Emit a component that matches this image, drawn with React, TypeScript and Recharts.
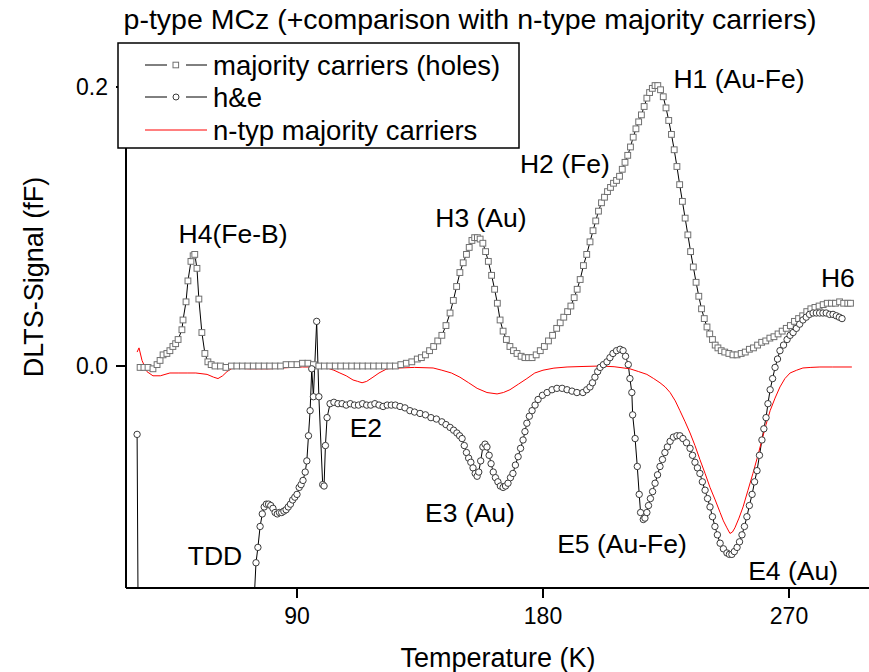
import React from 'react';
import { LineChart, Line, XAxis, YAxis, ReferenceDot, Label } from 'recharts';

const FONT = '"Liberation Sans", Arial, Helvetica, sans-serif';

// majority carriers (holes) - p-type DLTS spectrum
const holesT = [
  32.6, 34.0, 35.5, 37.3, 38.8, 39.9, 41.0, 42.4, 43.5, 44.6, 45.6, 46.5, 47.9, 48.3, 49.4, 50.1, 51.2, 52.0, 52.6, 53.4,
  54.1, 55.2, 56.3, 57.4, 58.6, 60.0, 62, 64, 66, 68, 70, 72, 74, 76, 78, 80, 82, 84, 86, 88,
  90, 92, 94, 96, 98, 100, 102, 104, 106, 108, 110, 112, 114, 116, 118, 120, 122, 124, 126, 128,
  130, 132, 134, 135.5, 137, 138.5, 140, 141.5, 143, 144.5, 146, 147.2, 148.4, 149.6, 150.8, 152.0, 153.0, 154.0, 155.0, 156.0,
  157.0, 158.0, 159.0, 160.0, 161.2, 162.3, 163.3, 164.3, 165.4, 166.6, 167.9, 169.2, 170.5, 172.0, 173.4, 174.7, 176.0, 177.5, 179.0, 180.5,
  182.0, 183.5, 185.0, 186.3, 187.6, 189.0, 190.2, 191.4, 192.5, 193.6, 194.8, 196.0, 197.2, 198.3, 199.3, 200.3, 201.4, 202.5, 203.6, 204.7,
  205.8, 206.9, 208.0, 209.0, 210.0, 211.0, 212.0, 213.0, 214.0, 215.0, 216.0, 217.0, 218.0, 219.0, 220.0, 221.0, 222.0, 223.0, 224.0, 225.0,
  226.0, 227.0, 228.0, 229.0, 230.0, 231.0, 232.0, 233.0, 234.0, 235.0, 236.0, 237.0, 238.0, 239.0, 240.0, 241.0, 242.0, 243.0, 244.0, 245.2,
  246.5, 248.0, 249.5, 251.0, 252.5, 254.0, 255.5, 257.0, 258.5, 260.0, 261.5, 263.0, 264.5, 266.0, 267.5, 269.0, 270.5, 272.0, 273.5, 275.0,
  276.5, 278.0, 279.5, 281.0, 282.5, 284.0, 285.5, 287.0, 288.5, 290.0, 291.5, 292.5,
];
const holesV = [
  -0.001, -0.001, -0.001, -0.002, 0.001, 0.004, 0.008, 0.009, 0.011, 0.014, 0.016, 0.019, 0.026, 0.033, 0.046, 0.061, 0.075, 0.079, 0.080, 0.070,
  0.048, 0.024, 0.009, 0.003, 0.001, 0.000, 0.000, -0.001, 0.000, 0.000, 0.000, 0.000, 0.000, 0.000, 0.000, 0.000, 0.000, 0.000, 0.001, 0.001,
  0.001, 0.002, 0.002, 0.001, 0.000, 0.000, 0.000, 0.000, 0.000, 0.000, 0.000, 0.000, 0.000, 0.000, 0.000, 0.000, 0.000, 0.000, 0.000, 0.001,
  0.002, 0.003, 0.005, 0.006, 0.008, 0.011, 0.014, 0.018, 0.022, 0.029, 0.038, 0.047, 0.057, 0.067, 0.074, 0.080, 0.085, 0.090, 0.092, 0.092,
  0.091, 0.088, 0.082, 0.075, 0.065, 0.055, 0.045, 0.033, 0.025, 0.019, 0.014, 0.011, 0.009, 0.007, 0.006, 0.006, 0.006, 0.008, 0.011, 0.014,
  0.018, 0.022, 0.027, 0.031, 0.035, 0.039, 0.043, 0.049, 0.055, 0.062, 0.072, 0.080, 0.089, 0.097, 0.104, 0.111, 0.117, 0.121, 0.125, 0.128,
  0.131, 0.133, 0.136, 0.141, 0.146, 0.151, 0.157, 0.164, 0.170, 0.175, 0.180, 0.186, 0.192, 0.196, 0.199, 0.201, 0.201, 0.198, 0.193, 0.185,
  0.176, 0.166, 0.155, 0.143, 0.130, 0.118, 0.106, 0.094, 0.082, 0.071, 0.060, 0.050, 0.041, 0.034, 0.028, 0.023, 0.019, 0.015, 0.013, 0.011,
  0.010, 0.009, 0.008, 0.008, 0.009, 0.010, 0.012, 0.013, 0.015, 0.017, 0.018, 0.020, 0.021, 0.023, 0.025, 0.027, 0.029, 0.032, 0.034, 0.036,
  0.039, 0.041, 0.042, 0.043, 0.044, 0.045, 0.045, 0.045, 0.046, 0.045, 0.045, 0.045,
];

// h&e (holes and electrons) spectrum
const heT = [
  31.5, 32.5, 73.5, 75.0, 75.7, 76.5, 77.3, 78.0, 78.8, 79.6, 80.4, 81.2, 82.0, 82.8, 83.6, 84.4, 85.2, 86.0, 86.8, 87.6,
  88.4, 89.2, 90.0, 90.8, 91.5, 92.2, 93.0, 93.6, 94.2, 94.8, 95.4, 96.0, 97.2, 98.0, 99.4, 99.9, 100.4, 101.0, 102.1, 103.5,
  105.0, 106.5, 108.0, 109.5, 111.0, 112.5, 114.0, 115.5, 117.0, 118.5, 120.0, 121.5, 123.0, 124.5, 126.0, 127.7, 129.5, 131.3, 133.0, 135.0,
  137.0, 139.0, 141.0, 143.0, 144.5, 146.0, 147.3, 148.5, 149.5, 150.4, 151.2, 152.0, 152.8, 153.6, 154.4, 155.2, 155.9, 156.5, 157.2, 158.0,
  158.8, 159.5, 160.3, 161.0, 161.8, 162.6, 163.5, 164.4, 165.4, 166.3, 167.2, 168.1, 169.0, 169.9, 170.9, 171.8, 172.7, 173.4, 174.1, 175.0,
  176.0, 177.1, 178.2, 179.8, 181.5, 183.3, 185.1, 187.0, 188.8, 190.6, 192.4, 194.6, 196.0, 197.2, 198.1, 199.0, 200.0, 200.9, 202.1, 203.4,
  204.5, 205.6, 206.9, 208.2, 209.3, 210.2, 211.2, 211.8, 212.5, 212.8, 213.7, 214.5, 215.2, 215.7, 216.7, 217.3, 218.0, 218.6, 219.3, 220.1,
  221.0, 221.9, 222.8, 223.7, 224.6, 225.5, 226.5, 227.7, 229.0, 230.1, 231.2, 232.5, 233.8, 234.7, 235.6, 236.5, 237.4, 238.3, 239.3, 240.2,
  241.1, 242.0, 242.9, 243.8, 244.8, 246.0, 247.3, 248.2, 249.1, 250.0, 251.0, 251.9, 252.8, 253.7, 254.6, 255.5, 256.5, 257.4, 258.3, 259.2,
  260.1, 260.8, 261.6, 262.3, 263.1, 264.0, 264.9, 265.8, 266.7, 268.0, 269.3, 270.4, 271.5, 272.7, 273.9, 275.1, 276.3, 277.5, 278.8, 280.0,
  281.2, 282.4, 283.6, 284.9, 286.1, 287.3, 288.4, 289.4,
];
const heV = [
  -0.049, -0.40, -0.20, -0.141, -0.130, -0.115, -0.106, -0.101, -0.099, -0.099, -0.100, -0.102, -0.105, -0.106, -0.105, -0.105, -0.104, -0.103, -0.101, -0.099,
  -0.096, -0.094, -0.092, -0.087, -0.085, -0.082, -0.076, -0.068, -0.050, -0.032, -0.002, -0.022, 0.032, -0.022, -0.085, -0.086, -0.057, -0.037, -0.027, -0.026,
  -0.027, -0.027, -0.028, -0.027, -0.028, -0.028, -0.027, -0.028, -0.028, -0.027, -0.028, -0.029, -0.028, -0.028, -0.028, -0.029, -0.030, -0.032, -0.033, -0.034,
  -0.035, -0.037, -0.038, -0.040, -0.042, -0.044, -0.046, -0.048, -0.050, -0.052, -0.057, -0.062, -0.066, -0.069, -0.073, -0.077, -0.079, -0.076, -0.068, -0.058,
  -0.056, -0.058, -0.064, -0.070, -0.076, -0.080, -0.083, -0.086, -0.087, -0.086, -0.084, -0.080, -0.077, -0.071, -0.065, -0.059, -0.053, -0.047, -0.041, -0.036,
  -0.032, -0.028, -0.024, -0.021, -0.019, -0.017, -0.016, -0.016, -0.017, -0.018, -0.019, -0.019, -0.017, -0.015, -0.012, -0.008, -0.004, -0.001, 0.001, 0.003,
  0.006, 0.009, 0.011, 0.012, 0.011, 0.007, 0.001, -0.009, -0.019, -0.035, -0.052, -0.072, -0.092, -0.105, -0.110, -0.109, -0.105, -0.100, -0.095, -0.090,
  -0.084, -0.078, -0.072, -0.067, -0.062, -0.058, -0.054, -0.051, -0.050, -0.050, -0.052, -0.055, -0.059, -0.064, -0.069, -0.073, -0.077, -0.083, -0.089, -0.095,
  -0.101, -0.108, -0.115, -0.121, -0.127, -0.131, -0.134, -0.135, -0.135, -0.133, -0.130, -0.126, -0.121, -0.115, -0.108, -0.100, -0.092, -0.083, -0.075, -0.064,
  -0.053, -0.045, -0.037, -0.027, -0.017, -0.009, -0.001, 0.005, 0.011, 0.015, 0.019, 0.022, 0.024, 0.027, 0.030, 0.033, 0.035, 0.037, 0.038, 0.038,
  0.038, 0.038, 0.038, 0.037, 0.037, 0.036, 0.035, 0.034,
];

// n-type majority carriers (electrons) reference spectrum
const nTypeT = [
  31.5, 32.2, 33.3, 35.1, 37.3, 40.0, 43.5, 46.5, 49.8, 53.0, 57.1, 59.5, 61.1, 62.8, 64.4, 66.0, 68.0, 72.0, 76.0, 80.0,
  84.0, 88.0, 92.0, 96.0, 99.0, 101.0, 103.5, 105.7, 108.0, 110.5, 112.2, 113.8, 115.5, 117.8, 120.0, 122.9, 127.7, 133.0, 139.8, 143.0,
  146.5, 149.6, 152.8, 155.9, 159.5, 163.2, 165.5, 167.9, 171.0, 174.1, 177.0, 180.0, 184.0, 188.8, 195.0, 200.9, 206.0, 211.8, 215.0, 218.0,
  220.5, 222.8, 224.7, 226.5, 228.4, 230.1, 232.0, 233.8, 235.6, 237.4, 239.3, 241.1, 243.0, 244.8, 246.0, 247.3, 248.4, 249.3, 250.2, 251.7,
  253.2, 255.0, 256.8, 258.5, 260.1, 261.6, 263.1, 264.9, 266.7, 268.5, 270.4, 272.8, 275.1, 278.0, 281.3, 286.0, 293.0,
];
const nTypeV = [
  0.010, 0.013, 0.004, -0.004, -0.007, -0.007, -0.005, -0.005, -0.005, -0.005, -0.006, -0.008, -0.009, -0.007, -0.004, -0.002, -0.0014, -0.002, -0.002, -0.002,
  -0.0015, -0.001, -0.0007, -0.0007, -0.001, -0.0014, -0.003, -0.005, -0.007, -0.010, -0.011, -0.012, -0.011, -0.008, -0.005, -0.002, -0.0014, -0.001, -0.0014, -0.003,
  -0.005, -0.008, -0.012, -0.016, -0.019, -0.020, -0.019, -0.017, -0.013, -0.009, -0.005, -0.003, -0.0015, -0.0007, -0.0003, 0.0, -0.0005, -0.002, -0.004, -0.006,
  -0.009, -0.012, -0.015, -0.019, -0.025, -0.032, -0.040, -0.048, -0.057, -0.067, -0.077, -0.087, -0.096, -0.105, -0.111, -0.116, -0.120, -0.119, -0.116, -0.109,
  -0.101, -0.089, -0.077, -0.065, -0.053, -0.042, -0.032, -0.023, -0.015, -0.009, -0.005, -0.003, -0.0014, -0.001, -0.0007, -0.0007, -0.0007,
];

// peak assignments written next to the spectra
const peakNames = ['H4(Fe-B)', 'H3 (Au)', 'H2 (Fe)', 'H1 (Au-Fe)', 'H6', 'E2', 'E3 (Au)', 'E5 (Au-Fe)', 'E4 (Au)', 'TDD'];
const peakLabelT = [66.6, 157.3, 188.0, 251.7, 287.9, 115.2, 153.3, 208.9, 271.5, 60.0];
const peakLabelV = [0.0882, 0.0996, 0.1384, 0.1993, 0.0566, -0.0509, -0.1118, -0.134, -0.1534, -0.1427];

const xTicks = [90, 180, 270];
const yTicks = [0, 0.2];

const toPoints = (ts: number[], vs: number[]) => ts.map((t, i) => ({ t, v: vs[i] }));
const holesData = toPoints(holesT, holesV);
const heData = toPoints(heT, heV);
const nTypeData = toPoints(nTypeT, nTypeV);

const SquareDot = (props: any) => {
  const { cx, cy, index } = props;
  if (cx == null || cy == null) return <g key={`sq-${index}`} />;
  return (
    <rect key={`sq-${index}`} x={cx - 2.9} y={cy - 2.9} width={5.8} height={5.8} fill="#fff" stroke="#707070" strokeWidth={1} />
  );
};

const CircleDot = (props: any) => {
  const { cx, cy, index } = props;
  if (cx == null || cy == null) return <g key={`ci-${index}`} />;
  return <circle key={`ci-${index}`} cx={cx} cy={cy} r={3.2} fill="#fff" stroke="#3a3a3a" strokeWidth={1} />;
};

const LegendRow = ({ y, label, kind }: { y: number; label: string; kind: 'square' | 'circle' | 'line' }) => (
  <g>
    {kind === 'line' ? (
      <line x1={145} x2={207} y1={y} y2={y} stroke="#ff0000" strokeWidth={1} />
    ) : (
      <>
        <line x1={145} x2={167} y1={y} y2={y} stroke="#000" strokeWidth={1} />
        <line x1={186} x2={207} y1={y} y2={y} stroke="#000" strokeWidth={1} />
        {kind === 'square' ? (
          <rect x={173} y={y - 2.8} width={5.6} height={5.6} fill="#fff" stroke="#707070" />
        ) : (
          <circle cx={176} cy={y} r={3} fill="#fff" stroke="#3a3a3a" />
        )}
      </>
    )}
    <text x={213} y={y + 10} fontFamily={FONT} fontSize={27.5} fill="#000">
      {label}
    </text>
  </g>
);

export default function App() {
  return (
    <div style={{ position: 'absolute', left: 0, top: 0, width: 869, height: 672, overflow: 'hidden', background: '#fff' }}>
      <LineChart width={869} height={672} margin={{ top: 44, right: 0, bottom: 0, left: 0 }}>
        <XAxis
          dataKey="t"
          type="number"
          domain={[27.44, 299.27]}
          allowDataOverflow
          ticks={xTicks}
          height={84}
          stroke="#000"
          strokeWidth={2}
          tickSize={10}
          tickMargin={10}
          tick={{ fontSize: 23, fill: '#000', fontFamily: FONT }}
        >
          <Label
            content={() => (
              <text x={498} y={667} textAnchor="middle" fontFamily={FONT} fontSize={27} fill="#000">
                Temperature (K)
              </text>
            )}
          />
        </XAxis>
        <XAxis
          xAxisId="top"
          orientation="top"
          dataKey="t"
          type="number"
          domain={[27.44, 299.27]}
          allowDataOverflow
          height={0}
          tick={false}
          tickLine={false}
          stroke="#000"
          strokeWidth={2}
        />
        <YAxis
          type="number"
          domain={[-0.1591, 0.2308]}
          allowDataOverflow
          ticks={yTicks}
          width={126}
          stroke="#000"
          strokeWidth={2}
          tickSize={10}
          tickMargin={8}
          tickFormatter={(v: number) => v.toFixed(1)}
          tick={{ fontSize: 23, fill: '#000', fontFamily: FONT }}
        >
          <Label
            content={() => (
              <text
                x={43}
                y={277}
                transform="rotate(-90, 43, 277)"
                textAnchor="middle"
                fontFamily={FONT}
                fontSize={27}
                fill="#000"
              >
                DLTS-Signal (fF)
              </text>
            )}
          />
        </YAxis>

        <Line
          data={holesData}
          dataKey="v"
          type="linear"
          stroke="#000"
          strokeWidth={1}
          dot={SquareDot}
          activeDot={false}
          isAnimationActive={false}
        />
        <Line
          data={heData}
          dataKey="v"
          type="linear"
          stroke="#000"
          strokeWidth={1}
          dot={CircleDot}
          activeDot={false}
          isAnimationActive={false}
        />
        <Line
          data={nTypeData}
          dataKey="v"
          type="linear"
          stroke="#ff0000"
          strokeWidth={1}
          dot={false}
          activeDot={false}
          isAnimationActive={false}
        />

        {peakNames.map((name, i) => (
          <ReferenceDot
            key={name}
            x={peakLabelT[i]}
            y={peakLabelV[i]}
            r={0}
            fill="none"
            stroke="none"
            label={{
              content: (p: any) => (
                <text
                  x={p.viewBox.x}
                  y={p.viewBox.y}
                  textAnchor="middle"
                  fontFamily={FONT}
                  fontSize={26.5}
                  fill="#000"
                >
                  {name}
                </text>
              ),
            }}
          />
        ))}
      </LineChart>

      <svg width={869} height={672} style={{ position: 'absolute', left: 0, top: 0, pointerEvents: 'none' }}>
        <text x={470} y={29} textAnchor="middle" fontFamily={FONT} fontSize={28.5} fill="#000">
          p-type MCz (+comparison with n-type majority carriers)
        </text>
        <rect x={118} y={43} width={401} height={105} fill="#fff" stroke="#000" strokeWidth={1.5} />
        <LegendRow y={65} label="majority carriers (holes)" kind="square" />
        <LegendRow y={97} label="h&e" kind="circle" />
        <LegendRow y={130} label="n-typ majority carriers" kind="line" />
      </svg>
    </div>
  );
}
